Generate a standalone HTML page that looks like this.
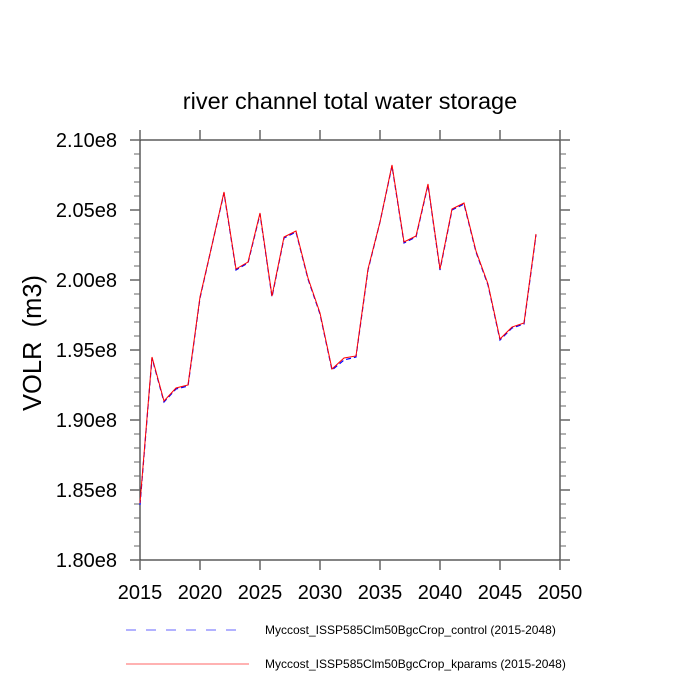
<!DOCTYPE html>
<html><head><style>body{margin:0;background:#fff}svg{display:block}text{font-family:"Liberation Sans",sans-serif}</style></head>
<body>
<svg width="700" height="700" xmlns="http://www.w3.org/2000/svg">
<text x="350" y="109" font-size="23.5" text-anchor="middle">river channel total water storage</text>
<g stroke="#666" stroke-width="1.5" fill="none">
<rect x="140" y="140" width="420" height="420" stroke="#333" stroke-width="1.2"/>
<path d="M130 140h10M130 210h10M130 280h10M130 350h10M130 420h10M130 490h10M130 560h10
M560 140h10M560 210h10M560 280h10M560 350h10M560 420h10M560 490h10M560 560h10
M140 130v10M200 130v10M260 130v10M320 130v10M380 130v10M440 130v10M500 130v10M560 130v10
M140 560v10M200 560v10M260 560v10M320 560v10M380 560v10M440 560v10M500 560v10M560 560v10"/>
<path stroke-width="1" d="M134 154h6M134 168h6M134 182h6M134 196h6M134 224h6M134 238h6M134 252h6M134 266h6M134 294h6M134 308h6M134 322h6M134 336h6M134 364h6M134 378h6M134 392h6M134 406h6M134 434h6M134 448h6M134 462h6M134 476h6M134 504h6M134 518h6M134 532h6M134 546h6
M560 154h6M560 168h6M560 182h6M560 196h6M560 224h6M560 238h6M560 252h6M560 266h6M560 294h6M560 308h6M560 322h6M560 336h6M560 364h6M560 378h6M560 392h6M560 406h6M560 434h6M560 448h6M560 462h6M560 476h6M560 504h6M560 518h6M560 532h6M560 546h6"/>
</g>
<g font-size="20" text-anchor="end">
<text x="117" y="147">2.10e8</text><text x="117" y="217">2.05e8</text><text x="117" y="287">2.00e8</text><text x="117" y="357">1.95e8</text><text x="117" y="427">1.90e8</text><text x="117" y="497">1.85e8</text><text x="117" y="567">1.80e8</text>
</g>
<g font-size="20" text-anchor="middle">
<text x="140" y="599">2015</text><text x="200" y="599">2020</text><text x="260" y="599">2025</text><text x="320" y="599">2030</text><text x="380" y="599">2035</text><text x="440" y="599">2040</text><text x="500" y="599">2045</text><text x="560" y="599">2050</text>
</g>
<text transform="translate(41,343) rotate(-90)" font-size="25.5" text-anchor="middle" xml:space="preserve">VOLR  (m3)</text>
<polyline fill="none" stroke="#00f" stroke-width="1.2" stroke-dasharray="5,3" points="140,505 152,358 164,402 176,389 188,386 200,298 212,245 224,193 236,270 248,263 260,214 272,297 284,238 296,232 308,279 320,314 332,370 344,360 356,357 368,270 380,222 392,166 404,243 416,237 428,185 440,270 452,210 464,204 476,252 488,285 500,340 512,328 524,324 536,235"/>
<polyline fill="none" stroke="#f00" stroke-width="1" points="140,503 152,357 164,401 176,388 188,385 200,297 212,245 224,192 236,269 248,262 260,213 272,296 284,237 296,231 308,278 320,313 332,369 344,358 356,356 368,269 380,222 392,165 404,242 416,236 428,184 440,269 452,209 464,203 476,251 488,284 500,339 512,327 524,323 536,234"/>
<line x1="126" y1="630" x2="242" y2="630" stroke="#66f" stroke-width="1" stroke-dasharray="10,10"/>
<line x1="126" y1="664" x2="249" y2="664" stroke="#f66" stroke-width="1"/>
<text x="265" y="634" font-size="12">Myccost_ISSP585Clm50BgcCrop_control (2015-2048)</text>
<text x="265" y="668" font-size="12">Myccost_ISSP585Clm50BgcCrop_kparams (2015-2048)</text>
</svg>
</body></html>
